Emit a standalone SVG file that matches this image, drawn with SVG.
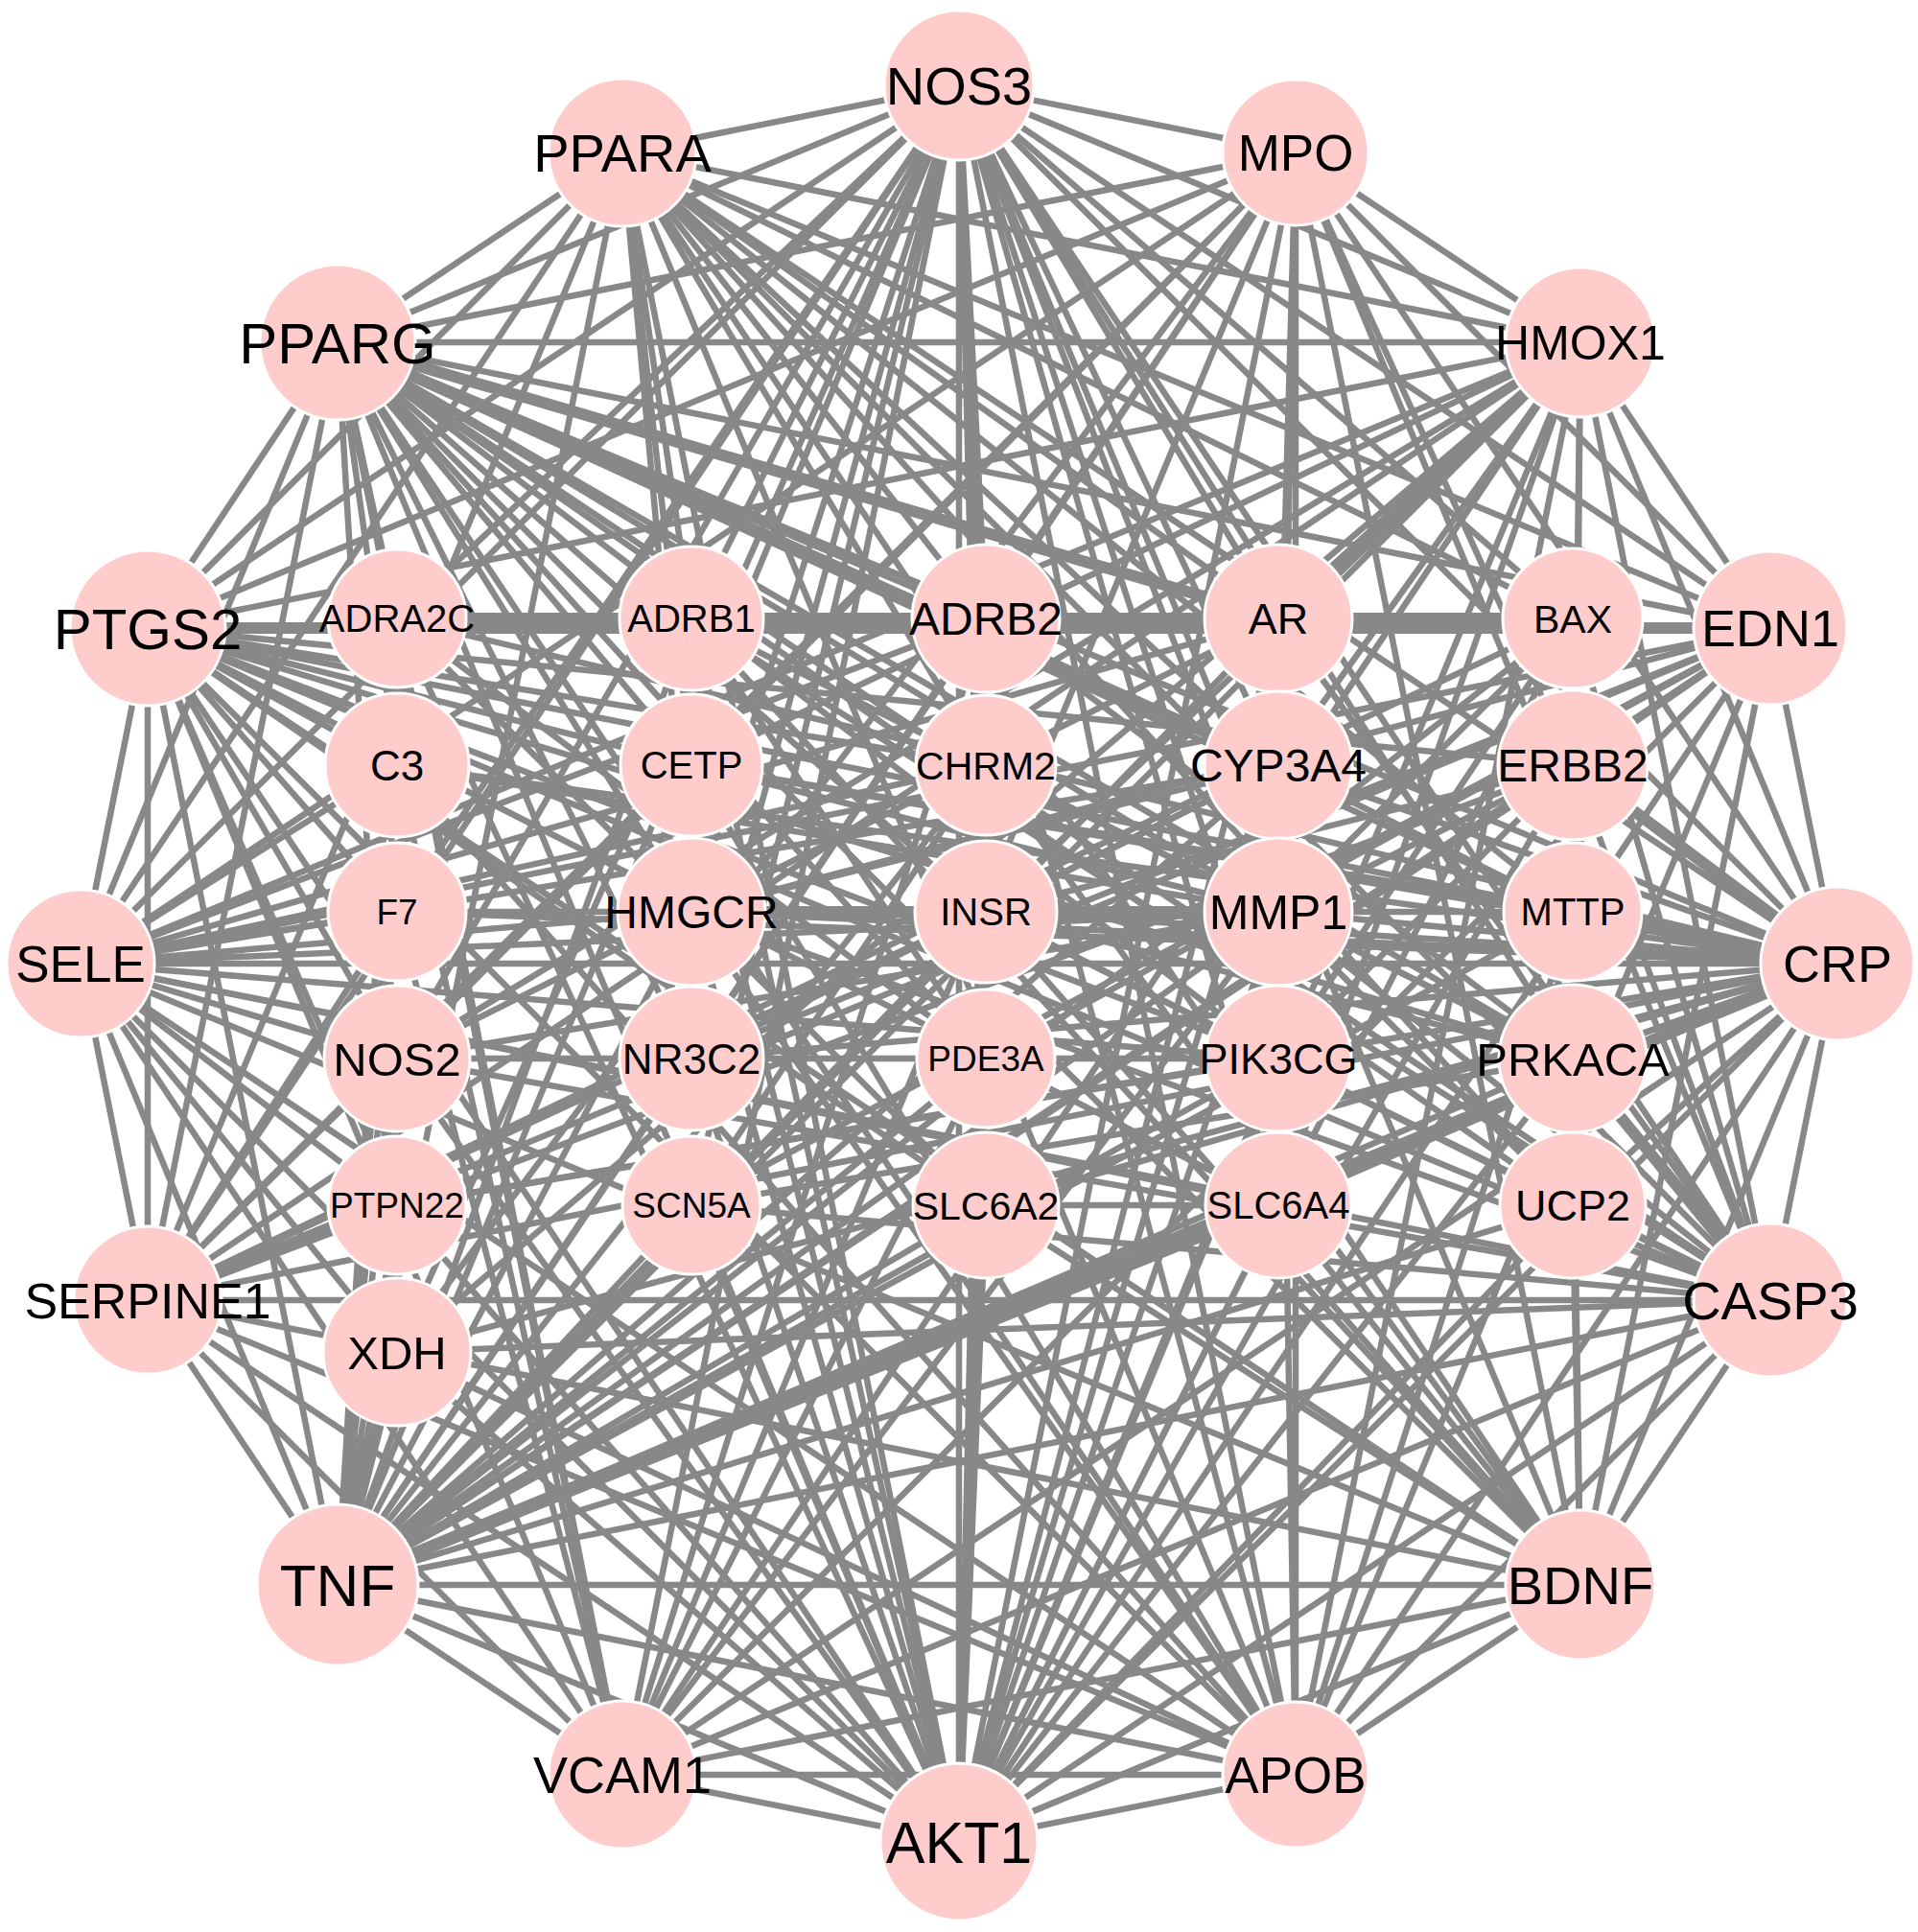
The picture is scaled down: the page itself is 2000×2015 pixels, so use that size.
<svg xmlns="http://www.w3.org/2000/svg" width="2000" height="2015" viewBox="0 0 2000 2015">
<style>
.edges line{stroke:#888888;stroke-width:6.5;stroke-linecap:butt}
.edges line.t{stroke-width:12}
.n circle{fill:#ffcccc;stroke:#ffffff;stroke-width:3}
.n text{font-family:"Liberation Sans",Arial,Helvetica,sans-serif;text-anchor:middle;fill:#000000}
</style>
<rect width="2000" height="2015" fill="#ffffff"/>
<g id="connectors" class="edges">
<line x1="1000" y1="89" x2="1351" y2="159"/>
<line x1="1000" y1="89" x2="1648" y2="357"/>
<line x1="1000" y1="89" x2="1846" y2="655"/>
<line x1="1000" y1="89" x2="1916" y2="1005"/>
<line x1="1000" y1="89" x2="1846" y2="1356"/>
<line x1="1000" y1="89" x2="1648" y2="1653"/>
<line x1="1000" y1="89" x2="1351" y2="1851"/>
<line x1="1000" y1="89" x2="1000" y2="1921"/>
<line x1="1000" y1="89" x2="649" y2="1851"/>
<line x1="1000" y1="89" x2="352" y2="1653"/>
<line x1="1000" y1="89" x2="154" y2="1356"/>
<line x1="1000" y1="89" x2="84" y2="1005"/>
<line x1="1000" y1="89" x2="154" y2="655"/>
<line x1="1000" y1="89" x2="352" y2="357"/>
<line x1="1000" y1="89" x2="649" y2="159"/>
<line x1="1351" y1="159" x2="1648" y2="357"/>
<line x1="1351" y1="159" x2="1846" y2="655"/>
<line x1="1351" y1="159" x2="1916" y2="1005"/>
<line x1="1351" y1="159" x2="1846" y2="1356"/>
<line x1="1351" y1="159" x2="1648" y2="1653"/>
<line x1="1351" y1="159" x2="1351" y2="1851"/>
<line x1="1351" y1="159" x2="1000" y2="1921"/>
<line x1="1351" y1="159" x2="649" y2="1851"/>
<line x1="1351" y1="159" x2="352" y2="1653"/>
<line x1="1351" y1="159" x2="154" y2="1356"/>
<line x1="1351" y1="159" x2="84" y2="1005"/>
<line x1="1351" y1="159" x2="154" y2="655"/>
<line x1="1351" y1="159" x2="352" y2="357"/>
<line x1="1648" y1="357" x2="1846" y2="655"/>
<line x1="1648" y1="357" x2="1916" y2="1005"/>
<line x1="1648" y1="357" x2="1846" y2="1356"/>
<line x1="1648" y1="357" x2="1351" y2="1851"/>
<line x1="1648" y1="357" x2="1000" y2="1921"/>
<line x1="1648" y1="357" x2="649" y2="1851"/>
<line x1="1648" y1="357" x2="352" y2="1653"/>
<line x1="1648" y1="357" x2="154" y2="1356"/>
<line x1="1648" y1="357" x2="84" y2="1005"/>
<line x1="1648" y1="357" x2="154" y2="655"/>
<line x1="1648" y1="357" x2="352" y2="357"/>
<line x1="1648" y1="357" x2="649" y2="159"/>
<line x1="1846" y1="655" x2="1916" y2="1005"/>
<line x1="1846" y1="655" x2="1648" y2="1653"/>
<line x1="1846" y1="655" x2="1351" y2="1851"/>
<line x1="1846" y1="655" x2="1000" y2="1921"/>
<line x1="1846" y1="655" x2="649" y2="1851"/>
<line x1="1846" y1="655" x2="352" y2="1653"/>
<line x1="1846" y1="655" x2="154" y2="1356"/>
<line x1="1846" y1="655" x2="84" y2="1005"/>
<line class="t" x1="1846" y1="655" x2="154" y2="655"/>
<line x1="1846" y1="655" x2="352" y2="357"/>
<line x1="1846" y1="655" x2="649" y2="159"/>
<line x1="1916" y1="1005" x2="1846" y2="1356"/>
<line x1="1916" y1="1005" x2="1648" y2="1653"/>
<line x1="1916" y1="1005" x2="1351" y2="1851"/>
<line x1="1916" y1="1005" x2="1000" y2="1921"/>
<line x1="1916" y1="1005" x2="649" y2="1851"/>
<line class="t" x1="1916" y1="1005" x2="352" y2="1653"/>
<line x1="1916" y1="1005" x2="154" y2="1356"/>
<line x1="1916" y1="1005" x2="84" y2="1005"/>
<line x1="1916" y1="1005" x2="154" y2="655"/>
<line x1="1916" y1="1005" x2="352" y2="357"/>
<line x1="1916" y1="1005" x2="649" y2="159"/>
<line x1="1846" y1="1356" x2="1648" y2="1653"/>
<line x1="1846" y1="1356" x2="1351" y2="1851"/>
<line x1="1846" y1="1356" x2="1000" y2="1921"/>
<line x1="1846" y1="1356" x2="649" y2="1851"/>
<line x1="1846" y1="1356" x2="352" y2="1653"/>
<line x1="1846" y1="1356" x2="154" y2="1356"/>
<line x1="1846" y1="1356" x2="84" y2="1005"/>
<line x1="1846" y1="1356" x2="154" y2="655"/>
<line x1="1846" y1="1356" x2="352" y2="357"/>
<line x1="1846" y1="1356" x2="649" y2="159"/>
<line x1="1648" y1="1653" x2="1351" y2="1851"/>
<line x1="1648" y1="1653" x2="1000" y2="1921"/>
<line x1="1648" y1="1653" x2="649" y2="1851"/>
<line x1="1648" y1="1653" x2="352" y2="1653"/>
<line x1="1648" y1="1653" x2="154" y2="1356"/>
<line x1="1648" y1="1653" x2="84" y2="1005"/>
<line x1="1648" y1="1653" x2="154" y2="655"/>
<line x1="1648" y1="1653" x2="352" y2="357"/>
<line x1="1648" y1="1653" x2="649" y2="159"/>
<line x1="1351" y1="1851" x2="1000" y2="1921"/>
<line x1="1351" y1="1851" x2="649" y2="1851"/>
<line x1="1351" y1="1851" x2="352" y2="1653"/>
<line x1="1351" y1="1851" x2="154" y2="1356"/>
<line x1="1351" y1="1851" x2="84" y2="1005"/>
<line x1="1351" y1="1851" x2="154" y2="655"/>
<line x1="1351" y1="1851" x2="352" y2="357"/>
<line x1="1351" y1="1851" x2="649" y2="159"/>
<line x1="1000" y1="1921" x2="649" y2="1851"/>
<line x1="1000" y1="1921" x2="352" y2="1653"/>
<line x1="1000" y1="1921" x2="154" y2="1356"/>
<line x1="1000" y1="1921" x2="84" y2="1005"/>
<line x1="1000" y1="1921" x2="154" y2="655"/>
<line x1="1000" y1="1921" x2="352" y2="357"/>
<line x1="1000" y1="1921" x2="649" y2="159"/>
<line x1="649" y1="1851" x2="352" y2="1653"/>
<line x1="649" y1="1851" x2="154" y2="1356"/>
<line x1="649" y1="1851" x2="84" y2="1005"/>
<line x1="649" y1="1851" x2="154" y2="655"/>
<line x1="649" y1="1851" x2="352" y2="357"/>
<line x1="352" y1="1653" x2="154" y2="1356"/>
<line x1="352" y1="1653" x2="84" y2="1005"/>
<line x1="352" y1="1653" x2="154" y2="655"/>
<line x1="352" y1="1653" x2="649" y2="159"/>
<line x1="154" y1="1356" x2="84" y2="1005"/>
<line x1="154" y1="1356" x2="154" y2="655"/>
<line x1="154" y1="1356" x2="352" y2="357"/>
<line x1="154" y1="1356" x2="649" y2="159"/>
<line x1="84" y1="1005" x2="154" y2="655"/>
<line x1="84" y1="1005" x2="352" y2="357"/>
<line x1="84" y1="1005" x2="649" y2="159"/>
<line x1="154" y1="655" x2="352" y2="357"/>
<line x1="154" y1="655" x2="649" y2="159"/>
<line x1="352" y1="357" x2="649" y2="159"/>
<line x1="414" y1="645" x2="352" y2="357"/>
<line x1="414" y1="645" x2="1000" y2="89"/>
<line x1="414" y1="645" x2="1000" y2="1921"/>
<line x1="414" y1="645" x2="649" y2="1851"/>
<line x1="414" y1="645" x2="1916" y2="1005"/>
<line x1="414" y1="645" x2="352" y2="1653"/>
<line x1="721" y1="645" x2="649" y2="159"/>
<line x1="721" y1="645" x2="1000" y2="89"/>
<line x1="721" y1="645" x2="1000" y2="1921"/>
<line x1="721" y1="645" x2="1846" y2="1356"/>
<line x1="721" y1="645" x2="1648" y2="1653"/>
<line x1="721" y1="645" x2="352" y2="1653"/>
<line x1="1028" y1="645" x2="352" y2="357"/>
<line x1="1028" y1="645" x2="649" y2="159"/>
<line x1="1028" y1="645" x2="1000" y2="89"/>
<line x1="1028" y1="645" x2="1351" y2="159"/>
<line x1="1028" y1="645" x2="1000" y2="1921"/>
<line x1="1028" y1="645" x2="352" y2="1653"/>
<line x1="1028" y1="645" x2="649" y2="1851"/>
<line x1="1028" y1="645" x2="1351" y2="1851"/>
<line x1="1028" y1="645" x2="84" y2="1005"/>
<line class="t" x1="1333" y1="645" x2="352" y2="357"/>
<line x1="1333" y1="645" x2="1000" y2="89"/>
<line class="t" x1="1333" y1="645" x2="1648" y2="357"/>
<line x1="1333" y1="645" x2="1000" y2="1921"/>
<line x1="1333" y1="645" x2="352" y2="1653"/>
<line x1="1333" y1="645" x2="1846" y2="1356"/>
<line x1="1333" y1="645" x2="84" y2="1005"/>
<line x1="1333" y1="645" x2="649" y2="159"/>
<line x1="1640" y1="645" x2="1000" y2="89"/>
<line x1="1640" y1="645" x2="649" y2="159"/>
<line x1="1640" y1="645" x2="1846" y2="1356"/>
<line x1="1640" y1="645" x2="1000" y2="1921"/>
<line x1="1640" y1="645" x2="352" y2="1653"/>
<line x1="1640" y1="645" x2="154" y2="1356"/>
<line x1="414" y1="798" x2="154" y2="655"/>
<line x1="414" y1="798" x2="352" y2="357"/>
<line x1="414" y1="798" x2="1916" y2="1005"/>
<line x1="414" y1="798" x2="352" y2="1653"/>
<line x1="414" y1="798" x2="649" y2="1851"/>
<line x1="414" y1="798" x2="84" y2="1005"/>
<line x1="414" y1="798" x2="1351" y2="1851"/>
<line x1="721" y1="798" x2="649" y2="159"/>
<line x1="721" y1="798" x2="352" y2="357"/>
<line x1="721" y1="798" x2="1351" y2="1851"/>
<line x1="721" y1="798" x2="1916" y2="1005"/>
<line x1="721" y1="798" x2="1000" y2="1921"/>
<line x1="721" y1="798" x2="1648" y2="357"/>
<line x1="721" y1="798" x2="154" y2="1356"/>
<line x1="1028" y1="798" x2="1000" y2="89"/>
<line x1="1028" y1="798" x2="649" y2="159"/>
<line x1="1028" y1="798" x2="1000" y2="1921"/>
<line x1="1028" y1="798" x2="1648" y2="1653"/>
<line x1="1028" y1="798" x2="352" y2="1653"/>
<line x1="1028" y1="798" x2="84" y2="1005"/>
<line x1="1028" y1="798" x2="154" y2="655"/>
<line class="t" x1="1333" y1="798" x2="352" y2="357"/>
<line x1="1333" y1="798" x2="649" y2="159"/>
<line x1="1333" y1="798" x2="1000" y2="89"/>
<line x1="1333" y1="798" x2="1351" y2="159"/>
<line x1="1333" y1="798" x2="1648" y2="357"/>
<line x1="1333" y1="798" x2="352" y2="1653"/>
<line x1="1333" y1="798" x2="1000" y2="1921"/>
<line x1="1333" y1="798" x2="1351" y2="1851"/>
<line x1="1333" y1="798" x2="1916" y2="1005"/>
<line x1="1333" y1="798" x2="84" y2="1005"/>
<line x1="1640" y1="798" x2="1846" y2="655"/>
<line x1="1640" y1="798" x2="1351" y2="159"/>
<line x1="1640" y1="798" x2="1000" y2="1921"/>
<line x1="1640" y1="798" x2="1846" y2="1356"/>
<line x1="1640" y1="798" x2="352" y2="1653"/>
<line x1="1640" y1="798" x2="154" y2="1356"/>
<line x1="1640" y1="798" x2="154" y2="655"/>
<line x1="414" y1="951" x2="84" y2="1005"/>
<line x1="414" y1="951" x2="154" y2="655"/>
<line x1="414" y1="951" x2="1916" y2="1005"/>
<line x1="414" y1="951" x2="649" y2="1851"/>
<line x1="414" y1="951" x2="154" y2="1356"/>
<line x1="414" y1="951" x2="1000" y2="89"/>
<line x1="414" y1="951" x2="352" y2="1653"/>
<line x1="721" y1="951" x2="352" y2="357"/>
<line x1="721" y1="951" x2="649" y2="159"/>
<line x1="721" y1="951" x2="1000" y2="89"/>
<line x1="721" y1="951" x2="1916" y2="1005"/>
<line x1="721" y1="951" x2="1000" y2="1921"/>
<line x1="721" y1="951" x2="1351" y2="1851"/>
<line x1="721" y1="951" x2="352" y2="1653"/>
<line x1="721" y1="951" x2="1846" y2="1356"/>
<line x1="721" y1="951" x2="84" y2="1005"/>
<line x1="721" y1="951" x2="1846" y2="655"/>
<line x1="1028" y1="951" x2="1000" y2="1921"/>
<line x1="1028" y1="951" x2="1000" y2="89"/>
<line x1="1028" y1="951" x2="352" y2="357"/>
<line x1="1028" y1="951" x2="352" y2="1653"/>
<line x1="1028" y1="951" x2="1916" y2="1005"/>
<line x1="1028" y1="951" x2="1648" y2="1653"/>
<line x1="1028" y1="951" x2="154" y2="1356"/>
<line x1="1028" y1="951" x2="1648" y2="357"/>
<line x1="1333" y1="951" x2="352" y2="1653"/>
<line x1="1333" y1="951" x2="154" y2="655"/>
<line x1="1333" y1="951" x2="352" y2="357"/>
<line x1="1333" y1="951" x2="1000" y2="89"/>
<line x1="1333" y1="951" x2="1351" y2="159"/>
<line x1="1333" y1="951" x2="1916" y2="1005"/>
<line x1="1333" y1="951" x2="1846" y2="1356"/>
<line x1="1333" y1="951" x2="1000" y2="1921"/>
<line x1="1333" y1="951" x2="649" y2="1851"/>
<line x1="1333" y1="951" x2="84" y2="1005"/>
<line class="t" x1="1640" y1="951" x2="1916" y2="1005"/>
<line x1="1640" y1="951" x2="1351" y2="1851"/>
<line x1="1640" y1="951" x2="649" y2="159"/>
<line x1="1640" y1="951" x2="352" y2="357"/>
<line x1="1640" y1="951" x2="352" y2="1653"/>
<line x1="1640" y1="951" x2="1648" y2="357"/>
<line x1="414" y1="1104" x2="1000" y2="89"/>
<line x1="414" y1="1104" x2="352" y2="1653"/>
<line x1="414" y1="1104" x2="154" y2="655"/>
<line x1="414" y1="1104" x2="84" y2="1005"/>
<line x1="414" y1="1104" x2="1648" y2="357"/>
<line x1="414" y1="1104" x2="1351" y2="159"/>
<line x1="414" y1="1104" x2="1846" y2="1356"/>
<line x1="414" y1="1104" x2="1000" y2="1921"/>
<line x1="721" y1="1104" x2="352" y2="357"/>
<line x1="721" y1="1104" x2="1846" y2="655"/>
<line x1="721" y1="1104" x2="352" y2="1653"/>
<line x1="721" y1="1104" x2="1000" y2="1921"/>
<line x1="721" y1="1104" x2="1000" y2="89"/>
<line x1="721" y1="1104" x2="1916" y2="1005"/>
<line x1="1028" y1="1104" x2="1000" y2="89"/>
<line x1="1028" y1="1104" x2="1000" y2="1921"/>
<line x1="1028" y1="1104" x2="352" y2="357"/>
<line x1="1028" y1="1104" x2="1846" y2="655"/>
<line x1="1028" y1="1104" x2="352" y2="1653"/>
<line x1="1028" y1="1104" x2="649" y2="1851"/>
<line x1="1333" y1="1104" x2="1000" y2="1921"/>
<line x1="1333" y1="1104" x2="352" y2="1653"/>
<line x1="1333" y1="1104" x2="1000" y2="89"/>
<line x1="1333" y1="1104" x2="154" y2="655"/>
<line x1="1333" y1="1104" x2="84" y2="1005"/>
<line x1="1333" y1="1104" x2="1846" y2="1356"/>
<line x1="1333" y1="1104" x2="1351" y2="159"/>
<line x1="1333" y1="1104" x2="352" y2="357"/>
<line x1="1640" y1="1104" x2="1000" y2="1921"/>
<line x1="1640" y1="1104" x2="1000" y2="89"/>
<line class="t" x1="1640" y1="1104" x2="1846" y2="1356"/>
<line x1="1640" y1="1104" x2="1648" y2="1653"/>
<line x1="1640" y1="1104" x2="1916" y2="1005"/>
<line x1="1640" y1="1104" x2="352" y2="357"/>
<line x1="1640" y1="1104" x2="154" y2="655"/>
<line x1="1640" y1="1104" x2="352" y2="1653"/>
<line x1="414" y1="1257" x2="352" y2="1653"/>
<line class="t" x1="414" y1="1257" x2="154" y2="1356"/>
<line x1="414" y1="1257" x2="154" y2="655"/>
<line x1="414" y1="1257" x2="1000" y2="1921"/>
<line x1="414" y1="1257" x2="1916" y2="1005"/>
<line x1="414" y1="1257" x2="84" y2="1005"/>
<line x1="721" y1="1257" x2="1000" y2="89"/>
<line x1="721" y1="1257" x2="1000" y2="1921"/>
<line x1="721" y1="1257" x2="352" y2="1653"/>
<line x1="721" y1="1257" x2="1846" y2="1356"/>
<line x1="721" y1="1257" x2="1846" y2="655"/>
<line x1="1028" y1="1257" x2="1648" y2="1653"/>
<line x1="1028" y1="1257" x2="1000" y2="1921"/>
<line x1="1028" y1="1257" x2="1000" y2="89"/>
<line x1="1028" y1="1257" x2="352" y2="1653"/>
<line x1="1028" y1="1257" x2="154" y2="655"/>
<line x1="1028" y1="1257" x2="1916" y2="1005"/>
<line x1="1333" y1="1257" x2="1648" y2="1653"/>
<line class="t" x1="1333" y1="1257" x2="352" y2="1653"/>
<line x1="1333" y1="1257" x2="1000" y2="1921"/>
<line x1="1333" y1="1257" x2="154" y2="655"/>
<line x1="1333" y1="1257" x2="1000" y2="89"/>
<line x1="1333" y1="1257" x2="1916" y2="1005"/>
<line x1="1333" y1="1257" x2="1648" y2="357"/>
<line x1="1333" y1="1257" x2="84" y2="1005"/>
<line x1="1640" y1="1257" x2="352" y2="357"/>
<line x1="1640" y1="1257" x2="649" y2="159"/>
<line x1="1640" y1="1257" x2="1846" y2="1356"/>
<line x1="1640" y1="1257" x2="1648" y2="1653"/>
<line x1="1640" y1="1257" x2="1000" y2="1921"/>
<line x1="1640" y1="1257" x2="352" y2="1653"/>
<line x1="1640" y1="1257" x2="1648" y2="357"/>
<line x1="1640" y1="1257" x2="1916" y2="1005"/>
<line class="t" x1="414" y1="1410" x2="352" y2="1653"/>
<line x1="414" y1="1410" x2="1000" y2="89"/>
<line x1="414" y1="1410" x2="1351" y2="159"/>
<line x1="414" y1="1410" x2="1648" y2="357"/>
<line x1="414" y1="1410" x2="1916" y2="1005"/>
<line x1="414" y1="1410" x2="352" y2="357"/>
<line x1="414" y1="1410" x2="1000" y2="1921"/>
<line x1="414" y1="1410" x2="84" y2="1005"/>
<line x1="414" y1="1410" x2="1351" y2="1851"/>
<line x1="414" y1="1410" x2="1846" y2="1356"/>
<line class="t" x1="414" y1="645" x2="721" y2="645"/>
<line class="t" x1="721" y1="645" x2="1028" y2="645"/>
<line class="t" x1="1028" y1="645" x2="1333" y2="645"/>
<line class="t" x1="1333" y1="645" x2="1640" y2="645"/>
<line x1="721" y1="645" x2="1640" y2="1104"/>
<line x1="1028" y1="645" x2="1640" y2="1104"/>
<line x1="721" y1="645" x2="1028" y2="1104"/>
<line x1="1028" y1="798" x2="1640" y2="1104"/>
<line x1="414" y1="645" x2="1028" y2="1257"/>
<line x1="1028" y1="1257" x2="1333" y2="1257"/>
<line x1="1333" y1="798" x2="721" y2="951"/>
<line class="t" x1="721" y1="951" x2="1028" y2="951"/>
<line class="t" x1="1028" y1="951" x2="1333" y2="951"/>
<line x1="1333" y1="951" x2="1640" y2="951"/>
<line x1="721" y1="798" x2="1640" y2="951"/>
<line x1="1028" y1="951" x2="1333" y2="1104"/>
<line x1="1333" y1="1104" x2="1640" y2="798"/>
<line x1="1333" y1="951" x2="1640" y2="798"/>
<line x1="1333" y1="798" x2="721" y2="1104"/>
<line x1="721" y1="1257" x2="1640" y2="1104"/>
<line x1="721" y1="1257" x2="1028" y2="798"/>
<line x1="414" y1="798" x2="1333" y2="951"/>
<line x1="414" y1="645" x2="1028" y2="1104"/>
<line x1="414" y1="951" x2="1333" y2="951"/>
<line x1="414" y1="1104" x2="1333" y2="1104"/>
<line x1="1333" y1="645" x2="414" y2="1104"/>
<line x1="1028" y1="951" x2="1640" y2="1257"/>
<line x1="1333" y1="1104" x2="414" y2="1257"/>
<line x1="1333" y1="951" x2="414" y2="1104"/>
<line x1="1333" y1="798" x2="1028" y2="951"/>
<line x1="1640" y1="645" x2="1333" y2="951"/>
<line x1="1640" y1="645" x2="1333" y2="1104"/>
<line x1="1640" y1="1257" x2="1333" y2="951"/>
<line x1="1640" y1="798" x2="1028" y2="951"/>
<line x1="1640" y1="951" x2="1333" y2="798"/>
<line x1="1640" y1="1104" x2="1028" y2="951"/>
<line class="t" x1="1640" y1="798" x2="1916" y2="1005"/>
<line x1="1640" y1="1104" x2="1916" y2="1005"/>
</g>
<g id="node-NOS3" class="n"><circle cx="1000" cy="89" r="78"/><text x="1000" y="109" font-size="56">NOS3</text></g>
<g id="node-MPO" class="n"><circle cx="1351" cy="159" r="76"/><text x="1351" y="178" font-size="53">MPO</text></g>
<g id="node-HMOX1" class="n"><circle cx="1648" cy="357" r="78"/><text x="1648" y="375" font-size="50">HMOX1</text></g>
<g id="node-EDN1" class="n"><circle cx="1846" cy="655" r="80"/><text x="1846" y="674" font-size="54">EDN1</text></g>
<g id="node-CRP" class="n"><circle cx="1916" cy="1005" r="80"/><text x="1916" y="1024" font-size="54">CRP</text></g>
<g id="node-CASP3" class="n"><circle cx="1846" cy="1356" r="80"/><text x="1846" y="1376" font-size="56">CASP3</text></g>
<g id="node-BDNF" class="n"><circle cx="1648" cy="1653" r="78"/><text x="1648" y="1673" font-size="56">BDNF</text></g>
<g id="node-APOB" class="n"><circle cx="1351" cy="1851" r="76"/><text x="1351" y="1870" font-size="53">APOB</text></g>
<g id="node-AKT1" class="n"><circle cx="1000" cy="1921" r="82"/><text x="1000" y="1943" font-size="61">AKT1</text></g>
<g id="node-VCAM1" class="n"><circle cx="649" cy="1851" r="77"/><text x="649" y="1870" font-size="54">VCAM1</text></g>
<g id="node-TNF" class="n"><circle cx="352" cy="1653" r="84"/><text x="352" y="1675" font-size="62">TNF</text></g>
<g id="node-SERPINE1" class="n"><circle cx="154" cy="1356" r="77"/><text x="154" y="1375" font-size="52">SERPINE1</text></g>
<g id="node-SELE" class="n"><circle cx="84" cy="1005" r="77"/><text x="84" y="1024" font-size="53">SELE</text></g>
<g id="node-PTGS2" class="n"><circle cx="154" cy="655" r="81"/><text x="154" y="677" font-size="60">PTGS2</text></g>
<g id="node-PPARG" class="n"><circle cx="352" cy="357" r="81"/><text x="352" y="379" font-size="60">PPARG</text></g>
<g id="node-PPARA" class="n"><circle cx="649" cy="159" r="77"/><text x="649" y="179" font-size="56">PPARA</text></g>
<g id="node-ADRA2C" class="n"><circle cx="414" cy="645" r="72"/><text x="414" y="659" font-size="40">ADRA2C</text></g>
<g id="node-ADRB1" class="n"><circle cx="721" cy="645" r="75"/><text x="721" y="659" font-size="40">ADRB1</text></g>
<g id="node-ADRB2" class="n"><circle cx="1028" cy="645" r="77"/><text x="1028" y="662" font-size="48">ADRB2</text></g>
<g id="node-AR" class="n"><circle cx="1333" cy="645" r="77"/><text x="1333" y="661" font-size="45">AR</text></g>
<g id="node-BAX" class="n"><circle cx="1640" cy="645" r="73"/><text x="1640" y="660" font-size="41">BAX</text></g>
<g id="node-C3" class="n"><circle cx="414" cy="798" r="75"/><text x="414" y="814" font-size="44">C3</text></g>
<g id="node-CETP" class="n"><circle cx="721" cy="798" r="74"/><text x="721" y="812" font-size="40">CETP</text></g>
<g id="node-CHRM2" class="n"><circle cx="1028" cy="798" r="73"/><text x="1028" y="813" font-size="41">CHRM2</text></g>
<g id="node-CYP3A4" class="n"><circle cx="1333" cy="798" r="77"/><text x="1333" y="815" font-size="48">CYP3A4</text></g>
<g id="node-ERBB2" class="n"><circle cx="1640" cy="798" r="78"/><text x="1640" y="815" font-size="48">ERBB2</text></g>
<g id="node-F7" class="n"><circle cx="414" cy="951" r="72"/><text x="414" y="964" font-size="37">F7</text></g>
<g id="node-HMGCR" class="n"><circle cx="721" cy="951" r="77"/><text x="721" y="968" font-size="48">HMGCR</text></g>
<g id="node-INSR" class="n"><circle cx="1028" cy="951" r="74"/><text x="1028" y="965" font-size="40">INSR</text></g>
<g id="node-MMP1" class="n"><circle cx="1333" cy="951" r="77"/><text x="1333" y="969" font-size="50">MMP1</text></g>
<g id="node-MTTP" class="n"><circle cx="1640" cy="951" r="72"/><text x="1640" y="965" font-size="40">MTTP</text></g>
<g id="node-NOS2" class="n"><circle cx="414" cy="1104" r="76"/><text x="414" y="1122" font-size="49">NOS2</text></g>
<g id="node-NR3C2" class="n"><circle cx="721" cy="1104" r="75"/><text x="721" y="1120" font-size="44">NR3C2</text></g>
<g id="node-PDE3A" class="n"><circle cx="1028" cy="1104" r="72"/><text x="1028" y="1117" font-size="37">PDE3A</text></g>
<g id="node-PIK3CG" class="n"><circle cx="1333" cy="1104" r="76"/><text x="1333" y="1120" font-size="45">PIK3CG</text></g>
<g id="node-PRKACA" class="n"><circle cx="1640" cy="1104" r="77"/><text x="1640" y="1122" font-size="49">PRKACA</text></g>
<g id="node-PTPN22" class="n"><circle cx="414" cy="1257" r="72"/><text x="414" y="1270" font-size="37">PTPN22</text></g>
<g id="node-SCN5A" class="n"><circle cx="721" cy="1257" r="72"/><text x="721" y="1270" font-size="37">SCN5A</text></g>
<g id="node-SLC6A2" class="n"><circle cx="1028" cy="1257" r="76"/><text x="1028" y="1272" font-size="41">SLC6A2</text></g>
<g id="node-SLC6A4" class="n"><circle cx="1333" cy="1257" r="76"/><text x="1333" y="1271" font-size="40">SLC6A4</text></g>
<g id="node-UCP2" class="n"><circle cx="1640" cy="1257" r="76"/><text x="1640" y="1273" font-size="45">UCP2</text></g>
<g id="node-XDH" class="n"><circle cx="414" cy="1410" r="77"/><text x="414" y="1428" font-size="49">XDH</text></g>
</svg>
